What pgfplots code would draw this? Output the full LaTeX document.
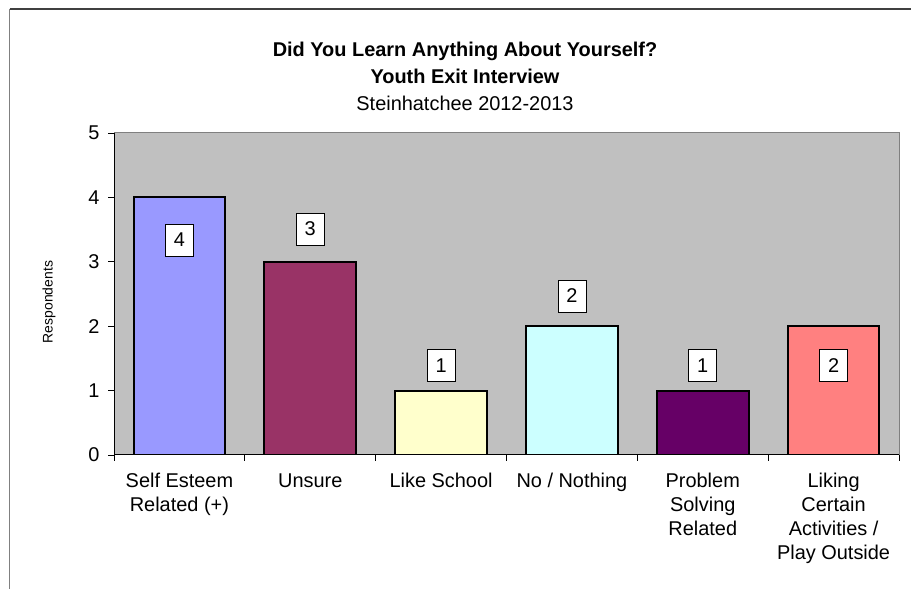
\documentclass[border=0pt]{standalone}
\usepackage{fontspec}
\setmainfont{Liberation Sans}
\usepackage{pgfplots}
\pgfplotsset{compat=1.18}
\definecolor{plotgray}{HTML}{C0C0C0}
\definecolor{framegray}{HTML}{808080}
\definecolor{framedark}{HTML}{404040}
\definecolor{cA}{HTML}{9999FF}
\definecolor{cB}{HTML}{993366}
\definecolor{cC}{HTML}{FFFFCC}
\definecolor{cD}{HTML}{CCFFFF}
\definecolor{cE}{HTML}{660066}
\definecolor{cF}{HTML}{FF8080}
\pgfplotstableread{
x y lab
0 3.34 4
1 3.51 3
2 1.39 1
3 2.47 2
4 1.39 1
5 1.39 2
}\labeltable
\begin{document}
\begin{tikzpicture}[x=1bp,y=1bp]
\useasboundingbox (0,0) rectangle (911,589);
\fill[white] (0,0) rectangle (911,589);
\draw[line width=1.5bp, framegray] (9.5,0) -- (9.5,580);
\draw[line width=1.5bp, framedark] (9.5,580) -- (911,580);
\begin{axis}[
  at={(114bp,134bp)}, anchor=south west,
  scale only axis, width=785bp, height=322bp,
  xmin=-0.5, xmax=5.5, ymin=0, ymax=5,
  axis background/.style={fill=plotgray},
  axis line style={draw=framegray, line width=1bp},
  ytick={0,1,2,3,4,5},
  xtick={0,1,2,3,4,5},
  xticklabels={Self Esteem\\Related (+), Unsure, Like School, No / Nothing, Problem\\Solving\\Related, Liking\\Certain\\Activities /\\Play Outside},
  minor xtick={-0.5,0.5,1.5,2.5,3.5,4.5,5.5},
  tick pos=left, tick align=outside,
  major tick length=6bp, minor tick length=6bp,
  x tick style={draw=none},
  minor x tick style={draw=black, line width=0.8bp},
  y tick style={draw=black, line width=0.8bp},
  /pgf/number format/assume math mode=true,
  ticklabel style={font=\fontsize{20}{24}\selectfont},
  xticklabel style={align=center, yshift=-9bp},
  yticklabel style={xshift=-5bp},
  after end axis/.code={
    \draw[black, line width=1bp] (rel axis cs:0,1) -- (rel axis cs:0,0) -- (rel axis cs:1,0);
  },
]
\addplot[ybar, bar width=0.7, bar shift=0pt, fill=cA, draw=black, line width=2bp] coordinates {(0,4)};
\addplot[ybar, bar width=0.7, bar shift=0pt, fill=cB, draw=black, line width=2bp] coordinates {(1,3)};
\addplot[ybar, bar width=0.7, bar shift=0pt, fill=cC, draw=black, line width=2bp] coordinates {(2,1)};
\addplot[ybar, bar width=0.7, bar shift=0pt, fill=cD, draw=black, line width=2bp] coordinates {(3,2)};
\addplot[ybar, bar width=0.7, bar shift=0pt, fill=cE, draw=black, line width=2bp] coordinates {(4,1)};
\addplot[ybar, bar width=0.7, bar shift=0pt, fill=cF, draw=black, line width=2bp] coordinates {(5,2)};
\addplot[draw=none, mark=none, nodes near coords, point meta=explicit symbolic,
  every node near coord/.append style={draw=black, fill=white, line width=0.75bp,
    minimum width=28bp, minimum height=32bp, inner sep=0pt, anchor=center,
    text=black, font=\fontsize{20}{24}\selectfont}]
  table[x=x, y=y, meta=lab] {\labeltable};
\end{axis}
\node[anchor=base, font=\bfseries\fontsize{20}{24}\selectfont] at (465,532.3) {Did You Learn Anything About Yourself?};
\node[anchor=base, font=\bfseries\fontsize{20}{24}\selectfont] at (465,505.7) {Youth Exit Interview};
\node[anchor=base, font=\fontsize{20}{24}\selectfont] at (465,478) {Steinhatchee 2012-2013};
\node[rotate=90, anchor=center, font=\fontsize{14}{16}\selectfont] at (49,287) {Respondents};
\end{tikzpicture}
\end{document}
